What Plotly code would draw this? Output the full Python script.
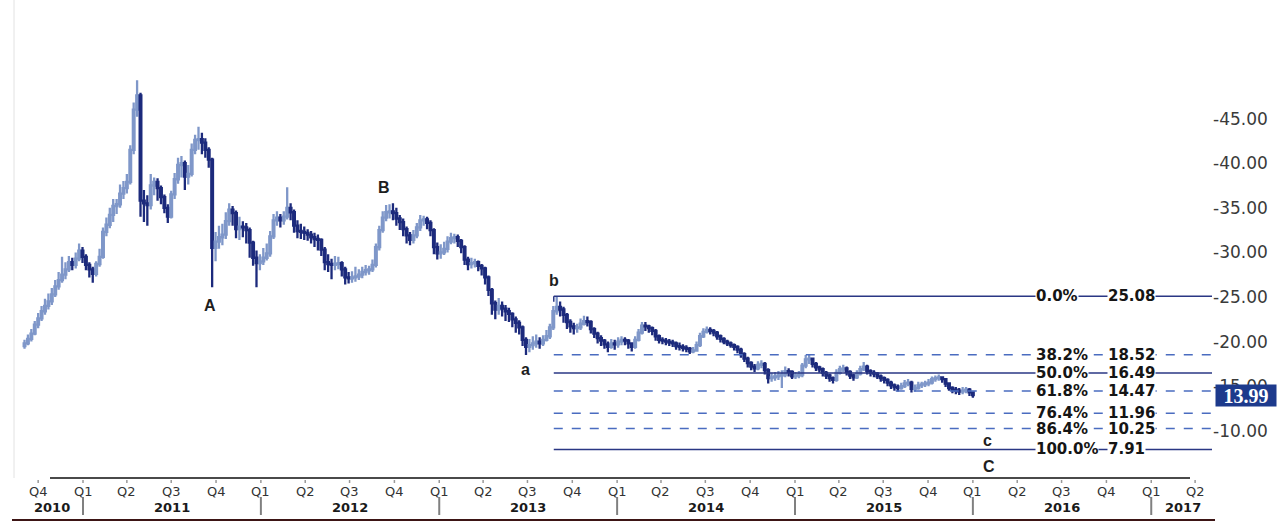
import pandas as pd
import plotly.graph_objects as go

# ---------------- data ----------------
start_date = "2010-09-03"
first_open = 19.5
closes = [
19.8,20.3,20.9,21.9,22.6,23.4,24.0,24.5,25.3,26.2,
26.9,27.5,28.1,28.9,28.6,29.3,30.2,29.5,28.6,28.1,
27.6,28.7,29.5,32.3,33.1,34.2,35.2,35.4,36.6,37.2,
37.9,41.5,46.0,47.6,35.8,35.5,35.3,37.5,37.9,37.2,
36.2,35.0,34.0,36.5,38.2,39.8,40.0,38.5,38.8,41.5,
42.6,42.7,42.3,41.5,40.4,30.5,31.2,31.7,32.0,33.5,
34.8,34.4,32.6,32.9,32.8,32.5,31.1,29.4,28.8,29.0,
29.4,29.9,31.8,33.6,33.9,33.6,34.0,35.0,34.5,33.0,
32.4,32.3,32.2,32.0,31.7,31.5,31.4,30.3,28.9,28.7,
28.6,28.7,28.8,28.1,27.2,27.1,27.2,27.3,27.5,27.8,
28.0,28.1,28.6,30.6,32.5,33.9,34.5,34.6,34.4,33.8,
33.4,32.6,31.9,31.4,31.9,32.8,33.6,33.7,33.3,32.5,
30.6,29.9,30.0,30.4,31.2,31.6,31.7,31.3,30.6,29.2,
28.7,28.8,28.9,28.5,28.2,27.2,25.8,24.3,23.6,24.0,
23.7,23.4,23.1,22.5,22.1,21.6,20.2,19.4,19.6,19.8,
20.0,19.8,20.2,20.6,21.6,23.4,23.9,23.6,23.0,22.2,
21.7,21.5,21.6,22.0,22.3,22.2,21.4,20.9,20.4,20.1,
19.7,19.4,19.8,19.7,20.0,20.2,20.1,19.8,19.4,20.2,
21.0,21.8,21.7,21.5,21.2,20.6,20.2,20.1,20.0,19.9,
19.8,19.5,19.4,19.3,19.2,18.9,19.0,19.6,20.6,21.1,
21.3,21.2,21.0,20.6,20.3,20.0,19.8,19.6,19.4,19.1,
18.6,18.1,17.6,17.2,17.0,17.4,17.5,16.8,15.9,16.0,
16.1,16.2,16.3,16.7,16.6,16.1,16.2,16.3,17.3,18.0,
18.1,17.5,17.1,16.9,16.5,16.2,15.9,15.7,16.5,16.9,
17.0,16.6,16.2,16.0,16.4,16.9,17.2,16.7,16.5,16.4,
16.1,15.9,15.7,15.4,15.1,14.9,14.8,15.0,15.3,15.4,
14.7,14.8,15.1,15.2,15.3,15.4,15.8,15.9,16.0,15.8,
15.3,14.8,14.6,14.5,14.4,14.5,14.6,14.3,13.99,
]
highs = [
20.2,20.8,21.4,22.3,23.2,24.0,24.8,25.4,26.0,26.9,
27.8,29.5,28.9,29.6,29.4,30.0,31.0,30.6,29.8,28.9,
28.4,29.0,30.4,32.8,33.9,35.0,36.0,36.0,37.6,38.0,
38.8,42.0,46.8,49.3,47.9,37.0,36.4,38.8,38.4,38.3,
37.5,36.5,35.4,36.9,38.9,40.6,40.8,40.3,39.8,42.2,
43.2,44.1,43.4,42.8,41.8,40.6,32.3,33.0,33.2,34.5,
35.5,35.2,34.7,34.0,33.5,33.3,32.8,31.3,30.2,29.8,
30.5,31.0,32.4,34.3,34.6,34.3,34.6,37.3,35.5,34.8,
33.6,33.2,32.9,32.6,32.4,32.2,32.0,31.6,30.6,29.8,
29.3,29.6,29.5,29.0,28.4,27.8,27.9,28.4,28.1,28.4,
28.6,28.5,29.2,31.0,33.0,34.6,35.3,35.4,35.5,35.0,
34.2,33.8,32.9,32.3,32.5,33.3,34.2,34.1,34.0,33.6,
32.7,31.1,30.9,31.2,31.8,32.2,32.1,32.0,31.5,30.8,
29.5,29.4,29.3,29.1,28.7,28.4,27.4,26.0,24.6,24.9,
24.5,24.1,23.8,23.3,22.8,22.4,21.8,20.5,20.3,20.6,
20.8,20.5,20.7,21.3,22.0,24.0,25.08,24.5,23.9,23.2,
22.5,22.1,22.0,22.6,22.9,22.8,22.4,21.6,21.1,20.7,
20.3,20.0,20.3,20.2,20.5,20.6,20.5,20.3,19.9,20.6,
21.4,22.2,22.2,21.9,21.7,21.4,20.8,20.5,20.4,20.3,
20.2,20.0,19.9,19.7,19.6,19.4,19.4,20.0,21.0,21.5,
21.7,21.6,21.4,21.2,20.8,20.5,20.2,20.0,19.8,19.6,
19.3,18.8,18.3,17.8,17.5,17.8,17.9,17.7,17.0,16.5,
16.6,16.7,16.8,17.2,17.0,16.8,16.6,16.7,17.6,18.5,
18.5,18.2,17.7,17.3,17.1,16.7,16.4,16.1,16.9,17.3,
17.4,17.2,16.8,16.4,16.8,17.3,17.7,17.4,16.9,16.8,
16.6,16.3,16.1,15.9,15.6,15.3,15.2,15.4,15.7,15.8,
15.6,15.2,15.5,15.5,15.6,15.8,16.1,16.2,16.3,16.1,
15.9,15.4,15.0,14.9,14.8,14.9,14.9,14.8,14.4,
]
lows = [
19.2,19.6,20.0,20.7,21.5,22.3,23.0,23.6,24.1,25.0,
25.8,26.6,27.0,27.8,28.0,28.2,29.0,28.8,28.0,27.2,
26.6,27.3,28.4,29.3,31.8,32.7,33.4,34.3,35.0,36.0,
36.6,37.6,41.0,45.2,34.0,33.4,33.0,34.8,36.4,35.8,
35.4,34.4,33.3,33.8,36.0,37.7,38.4,37.0,37.6,38.5,
41.0,41.5,41.0,40.6,39.5,26.1,29.0,30.4,30.8,31.5,
33.0,33.0,31.6,31.4,31.7,31.0,29.4,28.5,26.1,28.0,
28.6,29.1,29.5,31.5,33.0,32.8,33.1,33.7,33.6,32.2,
31.6,31.5,31.4,31.3,31.0,30.6,30.2,29.6,28.0,27.8,
27.0,28.0,28.1,27.3,26.4,26.5,26.6,26.7,26.9,27.1,
27.4,27.5,27.8,28.3,30.2,32.2,33.5,33.8,33.6,33.0,
32.5,31.8,31.0,30.8,31.0,31.6,32.4,33.0,32.6,31.8,
29.8,29.2,29.3,29.7,30.0,30.9,31.0,30.6,29.9,28.6,
28.0,28.2,28.3,27.9,27.4,26.4,25.1,23.0,22.5,23.0,
22.8,22.3,22.2,21.6,21.0,20.8,19.5,18.5,18.8,19.1,
19.3,19.2,19.5,20.0,20.3,21.3,23.0,22.8,22.1,21.4,
21.0,20.8,21.0,21.3,21.8,21.7,20.9,20.4,19.8,19.5,
19.2,18.8,19.2,19.1,19.3,19.6,19.6,19.2,18.9,19.2,
20.0,20.8,21.2,21.0,20.7,20.1,19.8,19.7,19.6,19.5,
19.4,19.1,19.0,18.9,18.8,18.6,18.7,18.9,19.4,20.4,
20.9,20.8,20.6,20.2,19.9,19.7,19.5,19.3,19.0,18.7,
18.2,17.7,17.1,16.8,16.6,16.8,17.0,16.3,15.3,15.5,
15.6,15.7,14.8,16.0,16.1,15.8,15.8,15.9,16.0,17.0,
17.5,17.1,16.7,16.5,16.1,15.8,15.5,15.3,15.5,16.3,
16.6,16.2,15.8,15.6,15.8,16.2,16.7,16.3,16.1,16.0,
15.8,15.5,15.3,15.0,14.7,14.5,14.4,14.6,14.8,15.0,
14.3,14.4,14.6,14.8,14.9,15.0,15.2,15.5,15.6,15.4,
14.9,14.5,14.2,14.1,14.0,14.1,14.2,13.9,13.7,
]

fib_pcts = ["0.0%", "38.2%", "50.0%", "61.8%", "76.4%", "86.4%", "100.0%"]
fib_values = [25.08, 18.52, 16.49, 14.47, 11.96, 10.25, 7.91]
fib_dashed = [False, True, False, True, True, True, False]
fib_start = "2013-08-24"

wave_labels = ["A", "B", "a", "b", "c", "C"]
wave_dates = ["2011-09-18", "2012-09-09", "2013-06-26", "2013-08-24", "2016-01-31", "2016-02-04"]
wave_prices = [24.1, 37.3, 16.9, 26.8, 8.9, 6.0]

ytick_values = [45, 40, 35, 30, 25, 20, 15, 10]
last_price = 13.99

quarter_labels = ["Q4","Q1","Q2","Q3","Q4","Q1","Q2","Q3","Q4","Q1","Q2","Q3","Q4",
                  "Q1","Q2","Q3","Q4","Q1","Q2","Q3","Q4","Q1","Q2","Q3","Q4","Q1","Q2"]
quarter_dates = pd.date_range("2010-10-01", periods=len(quarter_labels), freq="QS")
year_labels = ["2010","2011","2012","2013","2014","2015","2016","2017"]

# ---------------- derived ----------------
dates = pd.date_range(start_date, periods=len(closes), freq="7D")
opens = [first_open] + closes[:-1]

# pixel geometry
L, R, T, B = 15, 1212, 60, 478
base = pd.Timestamp("2011-01-01")
ppd = 178 / 365.25          # pixels per day
base_px = 83
x0 = base - pd.Timedelta(days=(base_px - L) / ppd)
x1 = base + pd.Timedelta(days=(R - base_px) / ppd)
ppu = 8.92                  # pixels per price unit
ref_y, ref_v = 297, 25
ymin = ref_v - (B - ref_y) / ppu
ymax = ref_v + (ref_y - T) / ppu

def date_px(d):
    return base_px + (pd.Timestamp(d) - base).total_seconds() / 86400 * ppd

def px_x(X):
    return (X - L) / (R - L)

def px_y(Y):
    return (B - Y) / (B - T)

fig = go.Figure()
fig.add_trace(go.Candlestick(
    x=dates, open=opens, high=highs, low=lows, close=closes,
    increasing=dict(fillcolor="#8ea4d0", line=dict(color="#7f97c9", width=2.3)),
    decreasing=dict(fillcolor="#1c2a7c", line=dict(color="#1c2a7c", width=2.3)),
    whiskerwidth=0, showlegend=False, hoverinfo="skip",
))

shapes = []
annotations = []
FONT = "DejaVu Sans, Verdana, sans-serif"

# fibonacci lines and labels
for pct, val, dashed in zip(fib_pcts, fib_values, fib_dashed):
    shapes.append(dict(type="line", xref="x", yref="y", x0=fib_start, x1=x1, y0=val, y1=val,
                       line=dict(color="#4a6cc0" if dashed else "#2a3784", width=1.5,
                                 dash="dash" if dashed else "solid")))
    annotations.append(dict(xref="paper", yref="y", x=px_x(1035), y=val, text=pct,
                            xanchor="left", yanchor="middle", showarrow=False,
                            font=dict(family=FONT, size=15, color="#151515", weight="bold"),
                            bgcolor="white", borderpad=0))
    annotations.append(dict(xref="paper", yref="y", x=px_x(1107), y=val, text=f"{val:.2f}",
                            xanchor="left", yanchor="middle", showarrow=False,
                            font=dict(family=FONT, size=15, color="#151515", weight="bold"),
                            bgcolor="white", borderpad=0))
# small vertical tick at the b point
shapes.append(dict(type="line", xref="x", yref="y", x0=fib_start, x1=fib_start,
                   y0=fib_values[0] - 0.6, y1=fib_values[0], line=dict(color="#2a3784", width=1.5)))

# wave labels
for lab, d, p in zip(wave_labels, wave_dates, wave_prices):
    annotations.append(dict(xref="x", yref="y", x=d, y=p, text=lab, showarrow=False,
                            font=dict(family="Liberation Sans, Arial", size=16, color="#1e1e1e",
                                      weight="bold")))

# right y tick labels
for v in ytick_values:
    annotations.append(dict(xref="paper", yref="y", x=px_x(1211), y=v, text=f"-{v:.2f}",
                            xanchor="left", yanchor="middle", showarrow=False,
                            font=dict(family=FONT, size=17, color="#3a3a3a")))
annotations.append(dict(xref="paper", yref="y", x=px_x(1215), y=last_price, text=f"{last_price:.2f}",
                        xanchor="left", yanchor="middle", showarrow=False, width=58, height=19,
                        align="center",
                        font=dict(family="Liberation Serif, serif", size=20, color="white", weight="bold"),
                        bgcolor="#1d3a8c", borderpad=1))

# bottom axis line
shapes.append(dict(type="line", xref="paper", yref="paper", x0=px_x(50), x1=px_x(1190),
                   y0=px_y(478), y1=px_y(478), line=dict(color="#4a4a4a", width=2)))
# left faint border
shapes.append(dict(type="line", xref="paper", yref="paper", x0=px_x(14), x1=px_x(14),
                   y0=px_y(478), y1=px_y(0), line=dict(color="#e2e2e2", width=1)))
# very bottom border
shapes.append(dict(type="line", xref="paper", yref="paper", x0=px_x(12), x1=px_x(1215),
                   y0=px_y(520), y1=px_y(520), line=dict(color="#3d1515", width=2)))

# quarter labels and ticks
for q, d in zip(quarter_labels, quarter_dates):
    X = date_px(d)
    annotations.append(dict(xref="paper", yref="paper", x=px_x(X), y=px_y(491), text=q,
                            xanchor="center", yanchor="middle", showarrow=False,
                            font=dict(family=FONT, size=13, color="#333")))
    shapes.append(dict(type="line", xref="paper", yref="paper", x0=px_x(X), x1=px_x(X),
                       y0=px_y(480), y1=px_y(483), line=dict(color="#999", width=1.5)))

# year labels and separators
axis_start, axis_end = 20, 1215
for i, y in enumerate(year_labels):
    ys = date_px(f"{y}-01-01")
    ye = date_px(f"{int(y) + 1}-01-01")
    a = max(ys, axis_start)
    b = min(ye, axis_end)
    annotations.append(dict(xref="paper", yref="paper", x=px_x((a + b) / 2), y=px_y(507), text=y,
                            xanchor="center", yanchor="middle", showarrow=False,
                            font=dict(family=FONT, size=13, color="#1a1a1a", weight="bold")))
    if i > 0:
        shapes.append(dict(type="line", xref="paper", yref="paper", x0=px_x(ys), x1=px_x(ys),
                           y0=px_y(497), y1=px_y(515), line=dict(color="#808080", width=2)))

fig.update_layout(
    width=1277, height=522,
    margin=dict(l=L, r=1277 - R, t=T, b=522 - B),
    paper_bgcolor="white", plot_bgcolor="white",
    xaxis=dict(type="date", range=[x0, x1], visible=False, rangeslider=dict(visible=False),
               fixedrange=True),
    yaxis=dict(range=[ymin, ymax], visible=False, fixedrange=True),
    shapes=shapes, annotations=annotations,
)
fig.write_html("out.html", config=dict(displayModeBar=False),
               post_script="document.body.style.margin='0px';")
